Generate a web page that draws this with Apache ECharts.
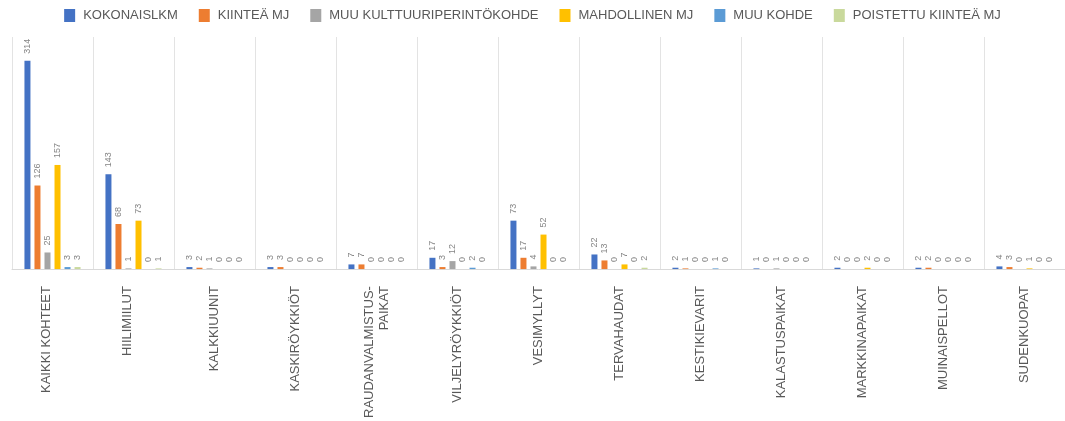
<!DOCTYPE html>
<html>
<head>
<meta charset="utf-8">
<script src="https://cdn.jsdelivr.net/npm/echarts@6/dist/echarts.min.js"></script>
<style>
    html, body { margin: 0; padding: 0; background: #fff; }
    #chart { width: 1065px; height: 421px; }
</style>
</head>
<body>
<div id="chart"></div>
<script>
    // categories
    let categories = ['KAIKKI KOHTEET', 'HIILIMIILUT', 'KALKKIUUNIT', 'KASKIRÖYKKIÖT',
        'RAUDANVALMISTUS-\nPAIKAT', 'VILJELYRÖYKKIÖT', 'VESIMYLLYT', 'TERVAHAUDAT',
        'KESTIKIEVARIT', 'KALASTUSPAIKAT', 'MARKKINAPAIKAT', 'MUINAISPELLOT', 'SUDENKUOPAT'];

    // series values
    let kokonaislkm = [314, 143, 3, 3, 7, 17, 73, 22, 2, 1, 2, 2, 4];
    let kiintea_mj = [126, 68, 2, 3, 7, 3, 17, 13, 1, 0, 0, 2, 3];
    let muu_kulttuuri = [25, 1, 1, 0, 0, 12, 4, 0, 0, 1, 0, 0, 0];
    let mahdollinen_mj = [157, 73, 0, 0, 0, 0, 52, 7, 0, 0, 2, 0, 1];
    let muu_kohde = [3, 0, 0, 0, 0, 2, 0, 0, 1, 0, 0, 0, 0];
    let poistettu_mj = [3, 1, 0, 0, 0, 0, 0, 2, 0, 0, 0, 0, 0];

    let indicators = [
        {label: 'KOKONAISLKM', color: '#4472C4', data: kokonaislkm},
        {label: 'KIINTEÄ MJ', color: '#ED7D31', data: kiintea_mj},
        {label: 'MUU KULTTUURIPERINTÖKOHDE', color: '#A5A5A5', data: muu_kulttuuri},
        {label: 'MAHDOLLINEN MJ', color: '#FFC000', data: mahdollinen_mj},
        {label: 'MUU KOHDE', color: '#5B9BD5', data: muu_kohde},
        {label: 'POISTETTU KIINTEÄ MJ', color: '#C9D99C', data: poistettu_mj}
    ];

    let font = '"Liberation Sans", Arial, sans-serif';

    let options = {
        animation: false,
        color: [],
        legend: {
            data: [],
            top: 4,
            left: 'center',
            itemWidth: 11,
            itemHeight: 13,
            itemGap: 21,
            icon: 'rect',
            textStyle: {
                color: '#595959',
                fontSize: 13,
                fontFamily: font,
                padding: [0, 0, 0, 3]
            }
        },
        grid: {
            left: 12,
            right: 0,
            top: 37,
            bottom: 148
        },
        xAxis: [{
            type: 'category',
            data: categories,
            axisLine: {lineStyle: {color: '#D9D9D9'}},
            axisTick: {show: false},
            splitLine: {show: true, lineStyle: {color: '#E3E3E3'}},
            axisLabel: {
                rotate: 90,
                interval: 0,
                margin: 17,
                color: '#595959',
                fontSize: 13,
                fontFamily: font,
                align: 'right',
                lineHeight: 15,
                // the first two labels sit a bit left of their group in the original
                formatter: function(value, index) {
                    if (index < 2) {
                        return '{shift|' + value + '}';
                    }
                    return value;
                },
                rich: {
                    shift: {
                        fontSize: 13,
                        fontFamily: font,
                        color: '#595959',
                        padding: [0, 0, 13, 0]
                    }
                }
            }
        }],
        yAxis: [{
            type: 'value',
            min: 0,
            max: 350,
            show: false,
            splitLine: {show: false}
        }],
        series: []
    };

    indicators.forEach(function(item) {
        options.color.push(item.color);
        options.legend.data.push(item.label);
        options.series.push({
            name: item.label,
            type: 'bar',
            barWidth: 6,
            barGap: '67%',
            barCategoryGap: '30%',
            data: item.data,
            label: {
                show: true,
                position: 'top',
                rotate: 90,
                align: 'left',
                verticalAlign: 'middle',
                distance: 7,
                color: '#858585',
                fontSize: 9,
                fontFamily: font
            }
        });
    });

    echarts.init(document.getElementById('chart')).setOption(options);
</script>
</body>
</html>
